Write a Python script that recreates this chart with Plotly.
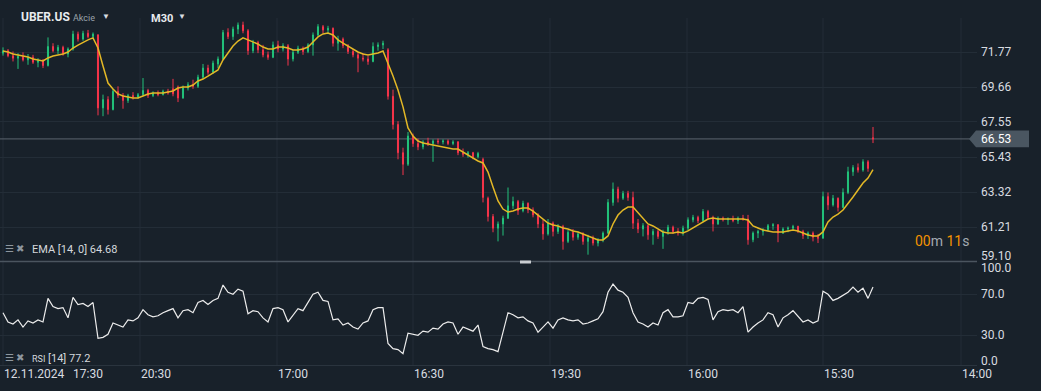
import plotly.graph_objects as go

# ---------------- data ----------------
open_ = [71.70,71.85,71.55,71.40,71.50,71.30,71.45,71.15,71.25,70.95,72.10,71.85,72.05,71.65,71.95,72.85,72.55,72.90,72.70,72.80,
         68.40,68.90,68.30,69.40,69.15,68.85,69.15,69.05,69.20,69.45,69.15,69.30,69.20,69.40,69.55,69.65,69.00,69.60,69.80,69.70,
         70.25,70.80,70.55,71.05,71.35,72.95,72.70,73.15,73.40,73.05,71.85,72.35,71.90,71.60,71.45,72.20,71.95,72.15,71.35,71.75,
         72.00,71.80,72.20,72.80,73.30,73.10,73.20,72.30,72.55,72.15,71.80,71.60,71.40,71.35,71.20,72.10,72.20,71.90,69.10,67.40,
         65.70,65.00,66.70,66.25,66.05,66.35,66.25,66.40,66.35,66.40,66.25,66.35,65.70,65.60,65.70,65.45,65.30,62.95,61.85,61.15,
         61.40,61.75,62.50,62.75,62.20,62.65,62.25,61.95,61.40,60.80,61.45,60.95,61.25,60.35,60.90,60.60,60.80,60.35,60.55,60.25,
         60.45,60.85,62.70,63.50,62.95,63.25,63.00,61.45,61.10,61.30,60.75,60.95,60.65,60.95,61.20,60.95,60.85,61.15,61.65,61.80,
         61.60,62.15,61.80,61.40,61.75,61.65,61.70,61.60,61.75,61.70,60.45,60.85,60.95,61.05,61.30,61.35,60.85,61.10,61.15,61.25,
         60.95,60.70,60.85,60.60,60.55,63.05,62.55,62.95,62.40,63.30,64.55,64.80,64.65,65.15,66.60]
high = [72.05,71.95,71.80,71.70,71.75,71.65,71.60,71.40,71.35,72.65,72.30,72.20,72.15,72.05,73.05,73.00,73.05,73.10,72.95,72.85,
        69.20,69.10,69.55,69.70,69.30,69.25,69.35,69.30,70.20,69.55,69.40,69.45,69.50,69.55,70.15,69.75,69.75,69.95,70.10,70.40,
        71.05,71.00,71.25,71.50,73.10,73.20,73.30,73.55,73.60,73.15,72.50,72.45,72.20,71.80,72.40,72.45,72.30,72.25,71.90,72.15,
        72.10,72.30,72.95,73.45,73.40,73.35,73.25,72.75,72.65,72.25,71.95,71.75,71.70,71.55,72.35,72.35,72.45,72.00,69.50,67.60,
        66.00,66.95,66.85,66.55,66.45,66.60,66.50,66.55,66.50,66.50,66.45,66.40,65.95,65.80,65.75,65.75,65.40,63.05,62.00,61.55,
        61.90,63.60,63.05,62.85,62.80,62.70,62.40,62.05,61.65,61.70,61.55,61.40,61.35,61.05,61.10,60.95,60.90,60.75,60.70,60.55,
        60.95,62.90,63.90,63.65,63.40,63.40,63.35,61.70,61.45,61.35,61.10,61.05,61.05,61.35,61.30,61.15,61.30,61.80,61.95,61.90,
        62.30,62.25,61.90,61.85,61.85,61.80,61.90,61.85,61.95,61.95,60.95,61.05,61.15,61.40,61.45,61.40,61.20,61.25,61.35,61.30,
        61.05,60.95,60.95,60.80,63.35,63.30,63.15,63.00,63.55,64.85,64.95,65.05,65.30,65.25,67.25]
low = [71.55,71.45,71.20,70.75,71.20,71.00,71.05,70.85,70.80,70.90,71.75,71.65,71.55,71.45,71.85,72.40,72.45,72.60,72.55,67.95,
       67.90,68.00,68.25,69.00,68.35,68.70,68.90,68.95,69.10,69.00,69.05,69.10,69.15,69.20,69.10,68.75,68.95,69.45,69.55,69.60,
       70.15,70.40,70.45,70.80,71.30,72.55,72.50,72.85,72.90,71.60,71.70,71.70,71.45,71.30,71.40,71.75,71.80,70.95,71.20,71.65,
       71.60,71.70,71.55,72.70,72.90,72.85,72.10,71.85,72.00,71.65,71.45,70.55,71.20,71.00,71.15,71.85,71.95,68.90,67.10,65.30,
       64.35,64.90,66.05,65.85,65.90,66.10,65.15,66.20,66.20,66.15,66.15,65.55,65.45,65.40,65.30,65.35,62.70,61.55,60.90,60.35,
       60.70,61.70,62.30,61.95,62.10,62.05,61.80,61.15,60.45,60.70,60.65,60.80,59.85,60.25,60.40,60.45,60.15,59.55,60.10,60.05,
       60.30,60.80,62.50,62.70,62.85,62.80,61.10,60.85,60.65,60.45,60.15,60.50,59.90,60.75,60.80,60.70,60.70,61.00,61.50,61.45,
       61.55,61.65,60.95,61.35,61.55,61.35,61.50,61.40,61.60,60.15,60.30,60.55,60.70,60.95,61.05,60.30,60.80,60.90,61.00,60.85,
       60.50,60.50,60.35,60.25,60.50,62.25,62.45,62.15,62.35,63.20,64.30,64.50,64.55,64.55,66.28]
close = [71.85,71.55,71.40,71.50,71.30,71.45,71.15,71.25,70.95,72.10,71.85,72.05,71.65,71.95,72.85,72.55,72.90,72.70,72.85,68.40,
         68.90,68.30,69.40,69.15,68.85,69.15,69.05,69.20,69.45,69.15,69.30,69.20,69.40,69.30,69.25,69.00,69.60,69.80,69.70,70.25,
         70.80,70.55,71.10,71.35,72.95,72.70,73.15,73.40,73.05,71.85,72.35,71.90,71.60,71.45,72.20,71.95,72.15,71.35,71.75,72.00,
         71.80,72.20,72.80,73.30,73.10,73.20,72.30,72.55,72.15,71.80,71.60,71.40,71.35,71.20,72.10,72.20,72.30,69.10,67.40,65.70,
         65.00,66.70,66.25,66.05,66.35,66.25,66.40,66.35,66.40,66.25,66.35,65.70,65.60,65.70,65.45,65.65,63.00,61.85,61.15,61.40,
         61.75,62.50,62.75,62.20,62.65,62.25,61.95,61.40,60.80,61.45,60.95,61.25,60.35,60.90,60.60,60.80,60.35,60.55,60.25,60.45,
         60.85,62.70,63.50,62.95,63.25,63.00,61.45,61.10,61.30,60.75,60.95,60.65,60.95,61.20,60.95,60.85,61.15,61.65,61.80,61.60,
         62.15,61.80,61.40,61.75,61.65,61.70,61.60,61.75,61.70,60.45,60.85,60.95,61.05,61.30,61.35,60.85,61.10,61.15,61.25,60.95,
         60.70,60.85,60.60,60.55,63.05,62.55,62.95,62.40,63.30,64.55,64.80,64.65,65.15,64.75,66.53]
ema14 = [71.83,71.77,71.65,71.59,71.53,71.47,71.35,71.29,71.23,71.41,71.53,71.59,71.65,71.77,72.01,72.19,72.37,72.50,72.62,72.01,
         70.93,69.90,69.54,69.24,69.12,69.06,69.00,69.00,69.12,69.24,69.30,69.30,69.30,69.36,69.42,69.60,69.66,69.66,69.78,70.02,
         70.14,70.32,70.50,70.69,71.29,71.71,72.13,72.43,72.62,72.50,72.37,72.25,72.07,71.95,71.95,72.07,72.07,72.01,71.89,71.89,
         71.95,72.07,72.37,72.68,72.86,72.92,72.80,72.50,72.31,72.13,71.95,71.77,71.65,71.59,71.65,71.71,71.83,71.11,70.32,69.48,
         68.46,67.19,66.70,66.40,66.28,66.22,66.16,66.10,66.04,65.98,65.92,65.92,65.74,65.56,65.38,65.20,65.08,64.53,63.63,62.79,
         62.30,62.12,62.18,62.30,62.36,62.36,62.18,61.94,61.70,61.46,61.34,61.28,61.16,61.10,60.98,60.92,60.80,60.68,60.56,60.44,
         60.44,60.68,61.40,61.94,62.24,62.42,62.42,62.06,61.70,61.40,61.28,61.10,60.92,60.86,60.86,60.92,60.86,60.98,61.16,61.34,
         61.52,61.70,61.76,61.70,61.70,61.70,61.70,61.70,61.70,61.64,61.28,61.16,61.04,60.98,60.92,60.92,60.92,60.98,61.04,60.98,
         60.86,60.74,60.68,60.68,60.92,61.52,61.82,62.00,62.24,62.60,63.03,63.45,63.87,64.17,64.68]
rsi14 = [52,43,41,45,38,44,42,45,43,66,58,56,57,47,67,60,61,58,62,27,
         28,31,42,40,38,45,44,47,55,50,48,49,52,54,56,47,54,55,52,62,
         64,60,64,66,79,72,70,75,73,51,54,53,47,43,56,57,55,43,50,56,
         54,62,70,72,64,63,45,46,40,42,38,36,42,44,55,57,57,22,17,16,
         12,32,31,30,34,33,37,36,41,43,42,31,38,36,34,40,19,17,16,14,
         33,52,50,47,48,44,42,33,38,43,37,45,47,45,44,45,41,42,44,46,
         53,72,80,74,72,67,52,43,41,38,42,40,52,55,48,48,49,62,61,66,
         67,65,45,53,55,54,55,52,58,33,38,42,45,52,50,38,47,50,54,48,
         43,45,42,44,73,70,64,66,69,72,77,72,76,66,77.2]

price_ticks = [71.77, 69.66, 67.55, 65.43, 63.32, 61.21, 59.10]
rsi_ticks = [100.0, 70.0, 30.0, 0.0]
time_labels = ["12.11.2024", "17:30", "20:30", "17:00", "16:30", "19:30", "16:00", "15:30", "14:00"]
time_pos = [0, 13.8, 27.4, 54.8, 82, 109.4, 136.8, 164, 191.6]
grid_pos = [0, 27.4, 54.8, 82, 109.4, 136.8, 164, 191.6]
last_price = 66.53
ema_last = 64.68
rsi_last = 77.2

# ---------------- style ----------------
BG = "#18212a"
GRID = "#232d37"
GREEN = "#22c27a"
RED = "#f5344a"
GOLD = "#e3b826"
TXT = "#d4d8dc"
FONT = "Roboto"

idx = list(range(len(close)))
W, H = 1041, 391
PB = 366.0          # plot-area height in px (bottom margin 25)
PW = 977.0          # plot-area width in px
def py(px):         # pixel y (from top) -> paper y
    return (PB - px) / PB
def pxx(px):        # pixel x -> paper x
    return px / PW

fig = go.Figure()
fig.add_trace(go.Candlestick(
    x=idx, open=open_, high=high, low=low, close=close,
    increasing=dict(line=dict(color=GREEN, width=1), fillcolor=GREEN),
    decreasing=dict(line=dict(color=RED, width=1), fillcolor=RED),
    whiskerwidth=0, showlegend=False, hoverinfo="skip",
    xaxis="x", yaxis="y"))
fig.add_trace(go.Scatter(x=idx, y=ema14, mode="lines",
                         line=dict(color=GOLD, width=1.5),
                         showlegend=False, hoverinfo="skip", xaxis="x", yaxis="y"))
fig.add_trace(go.Scatter(x=idx, y=rsi14, mode="lines",
                         line=dict(color="#ececec", width=1.2),
                         showlegend=False, hoverinfo="skip", xaxis="x", yaxis="y2"))

shapes = []
for g in grid_pos:
    shapes.append(dict(type="line", xref="x", yref="paper", x0=g, x1=g, y0=0, y1=py(18),
                       line=dict(color=GRID, width=1), layer="below"))
# panel separator
shapes.append(dict(type="line", xref="paper", yref="paper", x0=0, x1=1, y0=py(261.5), y1=py(261.5),
                   line=dict(color="#4b555f", width=1.5), layer="above"))
# bottom line
shapes.append(dict(type="line", xref="paper", yref="paper", x0=0, x1=1, y0=py(365.5), y1=py(365.5),
                   line=dict(color="#2a343e", width=1), layer="below"))
# current price line
shapes.append(dict(type="line", xref="paper", yref="y", x0=0, x1=pxx(970), y0=last_price, y1=last_price,
                   line=dict(color="#5b656f", width=1), layer="below"))
# price tag
hh = 0.51
shapes.append(dict(type="path", xref="paper", yref="y",
                   path=f"M {pxx(969)},{last_price} L {pxx(976)},{last_price+hh} L {pxx(1029)},{last_price+hh} "
                        f"L {pxx(1029)},{last_price-hh} L {pxx(976)},{last_price-hh} Z",
                   fillcolor="#4a5661", line=dict(width=0), layer="above"))
# drag handle
shapes.append(dict(type="rect", xref="paper", yref="paper", x0=pxx(520), x1=pxx(531),
                   y0=py(263.5), y1=py(260.5), fillcolor="#c9cdd1", line=dict(width=0), layer="above"))

ann = []
def add(text, x, y, size=12, color=TXT, xanchor="left", yanchor="middle", xref="paper", yref="paper", bold=False):
    t = f"<b>{text}</b>" if bold else text
    ann.append(dict(text=t, x=x, y=y, xref=xref, yref=yref, xanchor=xanchor, yanchor=yanchor,
                    showarrow=False, font=dict(family=FONT, size=size, color=color), borderpad=0))

# price axis labels
for v in price_ticks[:-1]:
    add(f"{v:.2f}", pxx(980), v, yref="y", color="#d8dce0")
add(f"{price_ticks[-1]:.2f}", pxx(980), py(256), color="#d8dce0")   # edge label pushed inside the panel
add(f"{last_price:.2f}", pxx(980), last_price, yref="y", color="#ffffff")
# rsi axis labels (edge labels pushed inside the panel)
rsi_label_px = {100.0: 268, 70.0: None, 30.0: None, 0.0: 361}
for v in rsi_ticks:
    if rsi_label_px[v] is None:
        add(f"{v:.1f}", pxx(980), v, yref="y2", color="#d8dce0")
    else:
        add(f"{v:.1f}", pxx(980), py(rsi_label_px[v]), color="#d8dce0")
# time labels
for t, p in zip(time_labels, time_pos):
    add(t, p, py(374), xref="x", color="#d8dce0")
# header
add("UBER.US", pxx(20), py(17), size=12, color="#e8ebee", bold=True)
add("Akcie", pxx(72), py(18), size=9, color="#9aa3ab")
add("▼", pxx(101), py(16), size=8, color="#d8dce0")
add("M30", pxx(150), py(18), size=11, color="#e8ebee", bold=True)
add("▼", pxx(177), py(16), size=8, color="#d8dce0")
# indicator labels
add("☰ ✖", pxx(4), py(248), size=10, color="#8e979f")
add(f"EMA [14, 0] {ema_last:.2f}", pxx(31), py(249), size=11, color=TXT)
add("☰ ✖", pxx(4), py(357), size=10, color="#8e979f")
add(f"<span style='font-size:9px'>RSI</span> [14] {rsi_last}", pxx(31), py(358), size=11, color=TXT)
# countdown
add("<span style='color:#f39200'>00</span>m <span style='color:#f39200'>11</span>s",
    pxx(970), py(241), size=14, color="#a3aab1", xanchor="right")

fig.update_layout(
    width=W, height=H, autosize=False,
    paper_bgcolor=BG, plot_bgcolor=BG,
    margin=dict(l=0, r=W - PW, t=0, b=H - PB),
    font=dict(family=FONT, color=TXT),
    boxgap=0.7,
    showlegend=False,
    xaxis=dict(range=[-0.6, (PW - 3) / 5], domain=[0, 1], anchor="y2", showgrid=False, zeroline=False,
               showticklabels=False, showline=False, rangeslider=dict(visible=False), fixedrange=True),
    yaxis=dict(domain=[py(261), py(18)], range=[74.906 - 0.0603 * 261, 74.906 - 0.0603 * 18],
               side="right", tickvals=price_ticks, showticklabels=False, gridcolor=GRID, gridwidth=1,
               zeroline=False, showline=False, fixedrange=True),
    yaxis2=dict(domain=[0, py(262)], range=[0, 101.5], side="right", tickvals=[30, 70],
                showticklabels=False, gridcolor=GRID, gridwidth=1, zeroline=False, showline=False,
                fixedrange=True),
    shapes=shapes, annotations=ann,
)

fig.write_html("out.html", config=dict(displayModeBar=False),
               post_script="document.body.style.margin='0';document.body.style.overflow='hidden';"
                           "document.body.style.background='" + BG + "';")
